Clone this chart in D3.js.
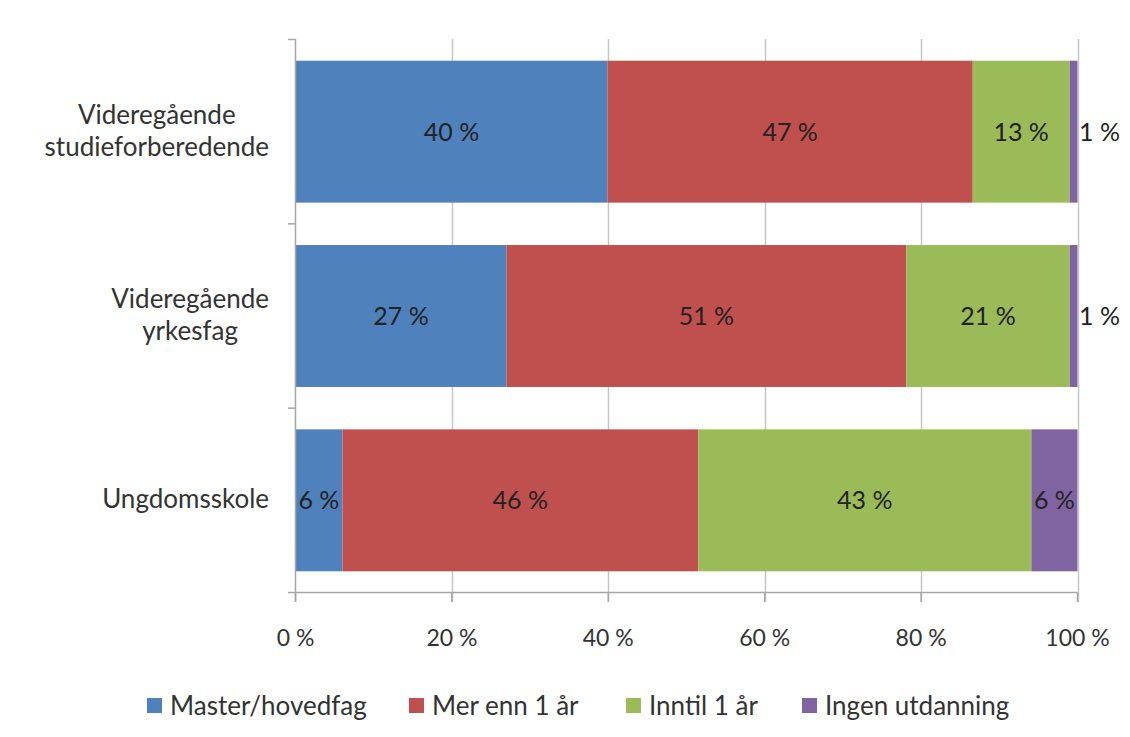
<!DOCTYPE html>
<html><head><meta charset="utf-8">
<script src="https://cdn.jsdelivr.net/npm/d3@7"></script>
<style>body{margin:0;background:#fff}svg{display:block}text{font-family:Lato,"Open Sans",sans-serif;fill:#333}</style>
</head><body><svg id="c" width="1130" height="737"></svg>
<script>
const categories = [["Videregående","studieforberedende"],["Videregående","yrkesfag"],["Ungdomsskole"]];
const seriesNames = ["Master/hovedfag","Mer enn 1 år","Inntil 1 år","Ingen utdanning"];
const colors = ["#4f81bd","#c0504d","#9bbb59","#8064a2"];
const master = [39.9, 27.0, 6.0];
const merEnn = [46.7, 51.1, 45.5];
const inntil = [12.4, 20.9, 42.6];
const ingen = [1.0, 1.0, 5.9];
const labels = [[40,47,13,1],[27,51,21,1],[6,46,43,6]];
const xTicks = [0,20,40,60,80,100];

const svg = d3.select("#c");
const x = d3.scaleLinear().domain([0,100]).range([295.5,1077.5]);
const y = d3.scaleBand().domain([0,1,2]).range([39.5,592.5]).paddingInner(0.23).paddingOuter(0.115);
const series = [master, merEnn, inntil, ingen];

// gridlines
svg.append("g").selectAll("line").data(xTicks.slice(1)).join("line")
  .attr("x1",d=>Math.round(x(d))+0.5).attr("x2",d=>Math.round(x(d))+0.5)
  .attr("y1",39).attr("y2",602).attr("stroke","#c6c6c6").attr("stroke-width",1.5);

// bars
const rows = categories.map((c,i)=>{let acc=0;return series.map((s,k)=>{const r={i,k,x0:acc,x1:acc+s[i]};acc+=s[i];return r;});});
const segs = rows.flat();
svg.append("g").selectAll("rect").data(segs).join("rect")
  .attr("x",d=>x(d.x0)).attr("width",d=>x(d.x1)-x(d.x0))
  .attr("y",d=>y(d.i)).attr("height",y.bandwidth()).attr("fill",d=>colors[d.k]);

// axes
const ax = svg.append("g").attr("stroke","#a6a6a6").attr("stroke-width",1.5);
ax.append("line").attr("x1",x(0)).attr("x2",x(0)).attr("y1",39).attr("y2",602);
ax.append("line").attr("x1",x(0)).attr("x2",x(100)).attr("y1",592.5).attr("y2",592.5);
ax.selectAll(".yt").data([0,1,2,3]).join("line")
  .attr("x1",288).attr("x2",x(0))
  .attr("y1",d=>d<3?y(d)-y.step()*y.paddingInner()/2:592.5)
  .attr("y2",d=>d<3?y(d)-y.step()*y.paddingInner()/2:592.5);
ax.selectAll(".xt").data(xTicks).join("line")
  .attr("x1",d=>x(d)).attr("x2",d=>x(d)).attr("y1",592.5).attr("y2",602);

// x tick labels
svg.append("g").selectAll("text").data(xTicks).join("text")
  .attr("x",d=>x(d)).attr("y",646).attr("text-anchor","middle")
  .attr("font-size",23).text(d=>d+" %");

// category labels: block right-aligned, lines centred within block
const labelRight = 269;
categories.forEach((c,i)=>{
  const cy = y(i)+y.bandwidth()/2;
  const lh = 32;
  const t = svg.append("text").attr("text-anchor","middle").attr("font-size",26);
  const spans = c.map((line,j)=>t.append("tspan").attr("y",cy + (j-(c.length-1)/2)*lh + 8).text(line));
  const maxW = d3.max(spans, s=>s.node().getComputedTextLength());
  spans.forEach(s=>s.attr("x", labelRight - maxW/2));
});

// value labels
svg.append("g").selectAll("text").data(segs).join("text")
  .attr("x",d=>{const w=x(d.x1)-x(d.x0); return w<20 ? x(d.x1)+22 : (x(d.x0)+x(d.x1))/2;})
  .attr("y",d=>y(d.i)+y.bandwidth()/2+9)
  .attr("text-anchor","middle").attr("font-size",25).style("fill","#222")
  .text(d=>labels[d.i][d.k]+" %");

// legend
const legX = [147,409,626,802];
const lg = svg.append("g").selectAll("g").data(seriesNames).join("g")
  .attr("transform",(d,i)=>`translate(${legX[i]},706)`);
lg.append("rect").attr("x",0).attr("y",-8).attr("width",15).attr("height",15).attr("fill",(d,i)=>colors[i]);
lg.append("text").attr("x",23).attr("y",8.5).attr("font-size",26).text(d=>d);
</script></body></html>
